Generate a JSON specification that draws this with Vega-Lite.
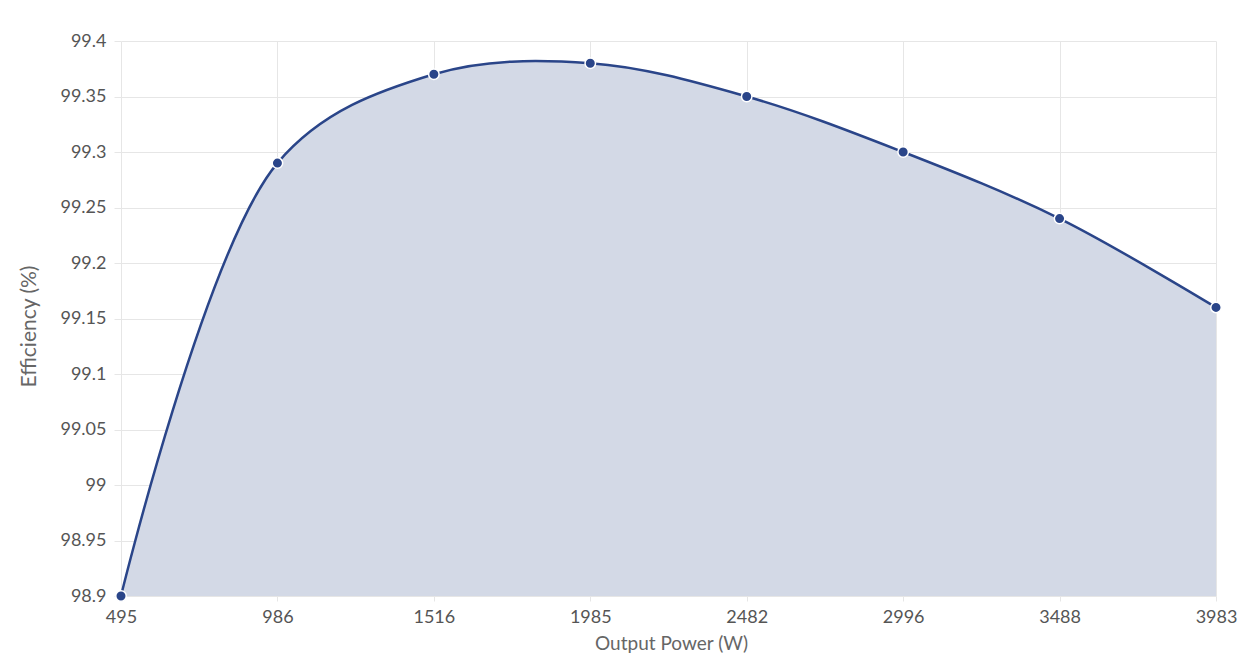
{
  "$schema": "https://vega.github.io/schema/vega-lite/v6.json",
  "width": 1123,
  "height": 555,
  "autosize": "none",
  "padding": {"left": 121, "top": 41, "right": 12, "bottom": 66},
  "background": "white",
  "data": {
    "values": [
      {"power": "495", "eff": 98.9},
      {"power": "986", "eff": 99.29},
      {"power": "1516", "eff": 99.37},
      {"power": "1985", "eff": 99.38},
      {"power": "2482", "eff": 99.35},
      {"power": "2996", "eff": 99.3},
      {"power": "3488", "eff": 99.24},
      {"power": "3983", "eff": 99.16}
    ]
  },
  "config": {
    "view": {"stroke": null},
    "axis": {
      "labelFont": "Lato",
      "titleFont": "Lato",
      "labelColor": "#555555",
      "titleColor": "#666666",
      "labelFontSize": 18,
      "titleFontSize": 19,
      "titleFontWeight": "normal",
      "gridColor": "#e6e6e6",
      "tickColor": "#e6e6e6",
      "domain": false
    }
  },
  "encoding": {
    "x": {
      "field": "power",
      "type": "ordinal",
      "sort": null,
      "scale": {"type": "point", "range": [0, 1095], "padding": 0},
      "axis": {
        "title": "Output Power (W)",
        "labelAngle": 0,
        "grid": true,
        "tickSize": 5,
        "labelPadding": 7,
        "titlePadding": 8,
        "titleX": 550
      }
    },
    "y": {
      "field": "eff",
      "type": "quantitative",
      "scale": {"domain": [98.9, 99.4], "nice": false, "zero": false},
      "axis": {
        "title": "Efficiency (%)",
        "values": [98.9, 98.95, 99, 99.05, 99.1, 99.15, 99.2, 99.25, 99.3, 99.35, 99.4],
        "format": "~f",
        "tickSize": 7,
        "labelPadding": 8,
        "titlePadding": 20,
        "titleFontSize": 21,
        "titleY": 285
      }
    }
  },
  "layer": [
    {
      "mark": {"type": "area", "interpolate": "catmull-rom", "color": "#d3d9e6", "opacity": 1},
      "encoding": {"y2": {"datum": 98.9}}
    },
    {
      "mark": {"type": "line", "interpolate": "catmull-rom", "color": "#2a4589", "strokeWidth": 2.5},
      "encoding": {}
    },
    {
      "mark": {"type": "point", "filled": true, "color": "#2a4589", "size": 110, "stroke": "white", "strokeWidth": 1.5, "opacity": 1},
      "encoding": {}
    }
  ]
}
